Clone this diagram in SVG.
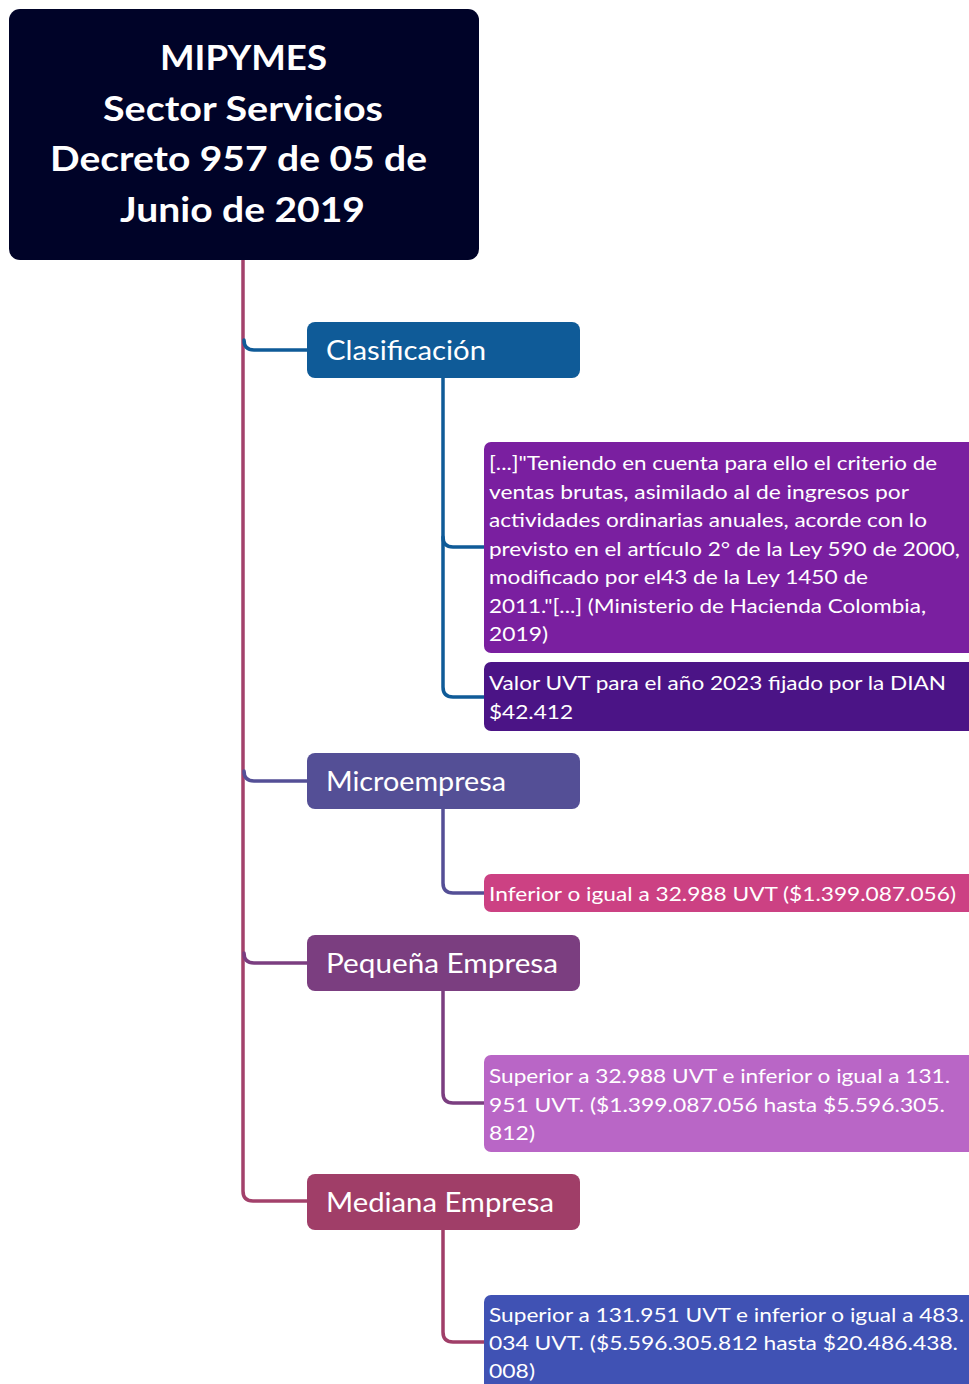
<svg xmlns="http://www.w3.org/2000/svg" width="969" height="1384" viewBox="0 0 969 1384">
<style>
.c{fill:none;stroke-width:3.5;stroke-linecap:round}
.rt{font-family:Lato,"Open Sans",sans-serif;font-weight:bold;font-size:34px;fill:#fff}
.bt{font-family:Lato,"Open Sans",sans-serif;font-size:26px;fill:#fff}
.lt{font-family:Lato,"Open Sans",sans-serif;font-size:20px;fill:#fff}
</style>
<rect width="969" height="1384" fill="#fff"/>
<g id="connectors">
<path class="c" stroke="#a3416b" d="M243,260 V1191 Q243,1201 253,1201 H307"/>
<path class="c" stroke="#0f5b98" d="M244,340 Q244,350 254,350 H307"/>
<path class="c" stroke="#544f96" d="M244,771 Q244,781 254,781 H307"/>
<path class="c" stroke="#7b3e80" d="M244,953 Q244,963 254,963 H307"/>
<path class="c" stroke="#0f5b98" d="M443,378 V687 Q443,697 453,697 H484"/>
<path class="c" stroke="#0f5b98" d="M443,537 Q443,547 453,547 H484"/>
<path class="c" stroke="#544f96" d="M443,809 V883 Q443,893 453,893 H484"/>
<path class="c" stroke="#7b3e80" d="M443,991 V1093 Q443,1103 453,1103 H484"/>
<path class="c" stroke="#a03e68" d="M443,1230 V1332 Q443,1342 453,1342 H484"/>
</g>
<g id="root">
<rect x="9" y="9" width="470" height="251" rx="11" fill="#000328"/>
<text class="rt" x="160" y="70" textLength="167" lengthAdjust="spacingAndGlyphs">MIPYMES</text>
<text class="rt" x="103" y="121" textLength="280" lengthAdjust="spacingAndGlyphs">Sector Servicios</text>
<text class="rt" x="50" y="171" textLength="377" lengthAdjust="spacingAndGlyphs">Decreto 957 de 05 de</text>
<text class="rt" x="120" y="222" textLength="245" lengthAdjust="spacingAndGlyphs">Junio de 2019</text>
</g>
<g id="clasificacion">
<rect x="307" y="322" width="273" height="56" rx="8" fill="#0f5b98"/>
<text class="bt" x="326" y="360" textLength="160" lengthAdjust="spacingAndGlyphs">Clasificación</text>
</g>
<g id="cita">
<rect x="484" y="442" width="500" height="211" rx="7" fill="#7a1fa0"/>
<text class="lt" x="489" y="470" textLength="448" lengthAdjust="spacingAndGlyphs">[...]"Teniendo en cuenta para ello el criterio de</text>
<text class="lt" x="489" y="499" textLength="420" lengthAdjust="spacingAndGlyphs">ventas brutas, asimilado al de ingresos por</text>
<text class="lt" x="489" y="527" textLength="438" lengthAdjust="spacingAndGlyphs">actividades ordinarias anuales, acorde con lo</text>
<text class="lt" x="489" y="556" textLength="471" lengthAdjust="spacingAndGlyphs">previsto en el artículo 2° de la Ley 590 de 2000,</text>
<text class="lt" x="489" y="584" textLength="379" lengthAdjust="spacingAndGlyphs">modificado por el43 de la Ley 1450 de</text>
<text class="lt" x="489" y="613" textLength="437" lengthAdjust="spacingAndGlyphs">2011."[...] (Ministerio de Hacienda Colombia,</text>
<text class="lt" x="489" y="641" textLength="59" lengthAdjust="spacingAndGlyphs">2019)</text>
</g>
<g id="uvt">
<rect x="484" y="662" width="500" height="69" rx="7" fill="#4b1486"/>
<text class="lt" x="489" y="690" textLength="457" lengthAdjust="spacingAndGlyphs">Valor UVT para el año 2023 fijado por la DIAN</text>
<text class="lt" x="489" y="719" textLength="84" lengthAdjust="spacingAndGlyphs">$42.412</text>
</g>
<g id="microempresa">
<rect x="307" y="753" width="273" height="56" rx="8" fill="#544f96"/>
<text class="bt" x="326" y="791" textLength="180" lengthAdjust="spacingAndGlyphs">Microempresa</text>
</g>
<g id="micro-valor">
<rect x="484" y="874" width="500" height="38" rx="7" fill="#cc4183"/>
<text class="lt" x="489" y="901" textLength="467" lengthAdjust="spacingAndGlyphs">Inferior o igual a 32.988 UVT ($1.399.087.056)</text>
</g>
<g id="pequena">
<rect x="307" y="935" width="273" height="56" rx="8" fill="#7b3e80"/>
<text class="bt" x="326" y="973" textLength="232" lengthAdjust="spacingAndGlyphs">Pequeña Empresa</text>
</g>
<g id="pequena-valor">
<rect x="484" y="1055" width="500" height="97" rx="7" fill="#b966c6"/>
<text class="lt" x="489" y="1083" textLength="461" lengthAdjust="spacingAndGlyphs">Superior a 32.988 UVT e inferior o igual a 131.</text>
<text class="lt" x="489" y="1112" textLength="456" lengthAdjust="spacingAndGlyphs">951 UVT. ($1.399.087.056 hasta $5.596.305.</text>
<text class="lt" x="489" y="1140" textLength="46" lengthAdjust="spacingAndGlyphs">812)</text>
</g>
<g id="mediana">
<rect x="307" y="1174" width="273" height="56" rx="8" fill="#a03e68"/>
<text class="bt" x="326" y="1212" textLength="228" lengthAdjust="spacingAndGlyphs">Mediana Empresa</text>
</g>
<g id="mediana-valor">
<rect x="484" y="1295" width="500" height="110" rx="7" fill="#4052b4"/>
<text class="lt" x="489" y="1322" textLength="475" lengthAdjust="spacingAndGlyphs">Superior a 131.951 UVT e inferior o igual a 483.</text>
<text class="lt" x="489" y="1350" textLength="469" lengthAdjust="spacingAndGlyphs">034 UVT. ($5.596.305.812 hasta $20.486.438.</text>
<text class="lt" x="489" y="1378" textLength="46" lengthAdjust="spacingAndGlyphs">008)</text>
</g>
</svg>
